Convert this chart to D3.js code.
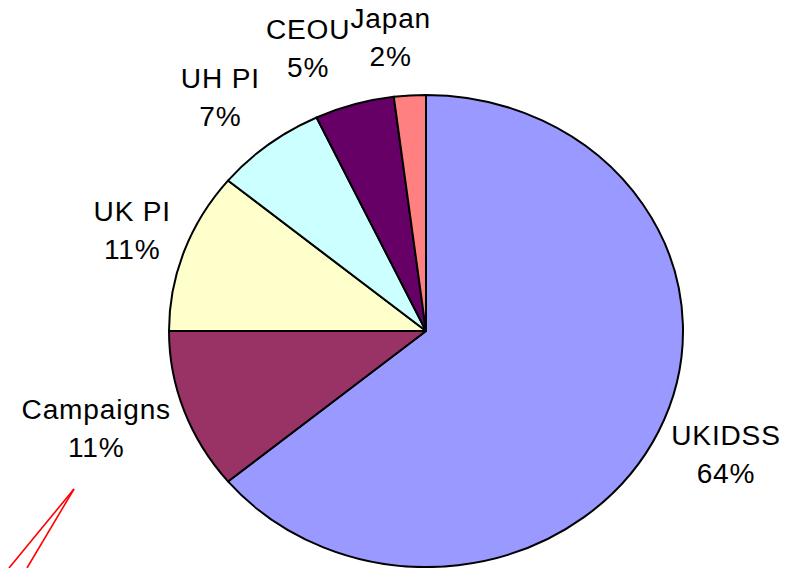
<!DOCTYPE html>
<html>
<head>
<meta charset="utf-8">
<script src="https://cdn.jsdelivr.net/npm/d3@7"></script>
<style>
  body { margin: 0; background: #fff; }
  svg { display: block; }
  .label { font-family: "Liberation Sans", Arial, sans-serif; font-size: 27px; fill: #000; letter-spacing: 0.8px; }
</style>
</head>
<body>
<svg width="791" height="568"></svg>
<script>
var categories = ["UKIDSS", "Campaigns", "UK PI", "UH PI", "CEOU", "Japan"];
var shares = [64, 11, 11, 7, 5, 2];
var colours = ["#9999FF", "#993366", "#FFFFCC", "#CCFFFF", "#660066", "#FF8080"];

var svg = d3.select("svg"),
    width = +svg.attr("width"),
    height = +svg.attr("height");

// the pie is a bit squashed (stretched sideways) in the original
var cx = 426, cy = 331,
    rx = 257, ry = 236;

var data = categories.map(function(c, i) { return { name: c, value: shares[i], colour: colours[i] }; });

var pie = d3.pie().sort(null).value(function(d) { return d.value; });
var arc = d3.arc().innerRadius(0).outerRadius(ry);
var arcs = pie(data);

var g = svg.append("g")
    .attr("transform", "translate(" + cx + "," + cy + ") scale(" + (rx / ry) + ",1)");

g.selectAll("path")
  .data(arcs)
  .enter().append("path")
    .attr("d", arc)
    .attr("fill", function(d) { return d.data.colour; })
    .attr("stroke", "#000")
    .attr("stroke-width", 2)
    .attr("stroke-linejoin", "round")
    .attr("vector-effect", "non-scaling-stroke");

// labels sit outside the ellipse, boxes pushed away from the slice middle
var stretch = 1.04, lineGap = 38, boxH = 58;
var placed = [];

arcs.forEach(function(d) {
  var a = (d.startAngle + d.endAngle) / 2,
      s = Math.sin(a), c = Math.cos(a);

  var t = svg.append("text").attr("class", "label").attr("text-anchor", "middle");
  t.append("tspan").attr("x", 0).attr("y", 0).text(d.data.name);
  t.append("tspan").attr("x", 0).attr("y", lineGap).text(d.data.value + "%");

  var w = t.node().getBBox().width * stretch;
  var x = cx + s * (rx + 14) + (s < 0 ? -1 : 1) * w / 2;
  var y = cy - c * (ry + 28 + boxH / 2);

  // push right if it runs into a label already placed (Japan vs CEOU)
  placed.forEach(function(p) {
    if (Math.abs(p.y - y) < boxH && x - w / 2 < p.x + p.w / 2 && x + w / 2 > p.x - p.w / 2) {
      x = p.x + p.w / 2 + w / 2;
    }
  });
  placed.push({ x: x, y: y, w: w });

  // y is the box middle; first baseline sits ~10px above it
  t.attr("transform", "translate(" + x + "," + (y - 11) + ") scale(" + stretch + ",1)");
});

// stray red callout lines at bottom left
var callout = svg.append("g").attr("stroke", "#FF0000").attr("stroke-width", 1.6).attr("fill", "none");
callout.append("line").attr("x1", 74).attr("y1", 489).attr("x2", 9).attr("y2", height);
callout.append("line").attr("x1", 74).attr("y1", 489).attr("x2", 27).attr("y2", height);
</script>
</body>
</html>
